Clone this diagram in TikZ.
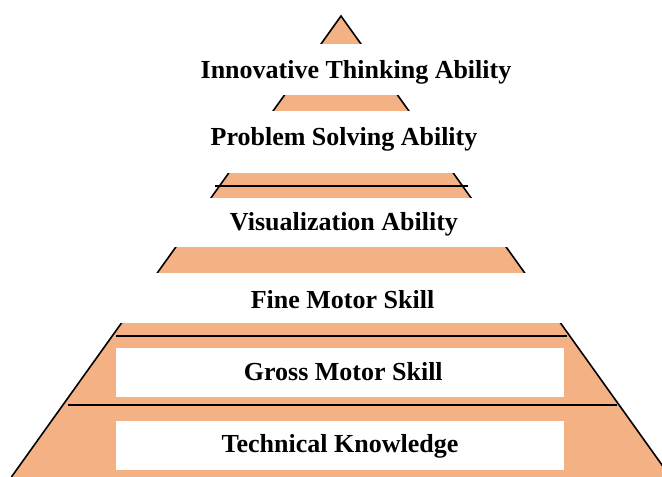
\documentclass[tikz,border=0pt]{standalone}
\usepackage{fontspec}
\setmainfont{Liberation Serif}
\definecolor{pyrorange}{RGB}{244,177,131}
\tikzset{
  pyrfill/.style={fill=pyrorange},
  pyredge/.style={draw=black,line width=1.6pt},
  sepline/.style={draw=black,line width=1.6pt},
  band/.style={fill=white},
  lbl/.style={anchor=base,inner sep=0pt,font=\fontsize{26}{30}\selectfont\bfseries}
}
\begin{document}
\begin{tikzpicture}[x=1pt,y=-1pt]
\useasboundingbox (0,0) rectangle (662,477);
\clip (0,0) rectangle (662,477);
% pyramid
\coordinate (apex) at (341,16);
\coordinate (bl) at (11.4,477);
\coordinate (br) at (670.6,477);
\fill[pyrfill] (apex) -- (bl) -- (br) -- cycle;
\draw[pyredge] (bl) -- (apex) -- (br);
% white bands
\fill[band] (0,44) rectangle (662,95);
\fill[band] (0,111) rectangle (662,173);
\fill[band] (0,198) rectangle (662,247);
\fill[band] (0,273) rectangle (662,322.5);
% separator lines
\coordinate (l1a) at (215,186);
\coordinate (l1b) at (468,186);
\coordinate (l2a) at (116,336);
\coordinate (l2b) at (567,336);
\coordinate (l3a) at (68,405);
\coordinate (l3b) at (617,405);
\draw[sepline] (l1a) -- (l1b);
\draw[sepline] (l2a) -- (l2b);
\draw[sepline] (l3a) -- (l3b);
% white text boxes
\fill[band] (116,348) rectangle (564,397);
\fill[band] (116,421) rectangle (564,470);
% labels
\node[lbl] (t1) at (356,78) {Innovative Thinking Ability};
\node[lbl] (t2) at (344,145) {Problem Solving Ability};
\node[lbl] (t3) at (344,230) {Visualization Ability};
\node[lbl] (t4) at (342.5,308) {Fine Motor Skill};
\node[lbl] (t5) at (343.3,380) {Gross Motor Skill};
\node[lbl] (t6) at (340,452) {Technical Knowledge};
\end{tikzpicture}
\end{document}
